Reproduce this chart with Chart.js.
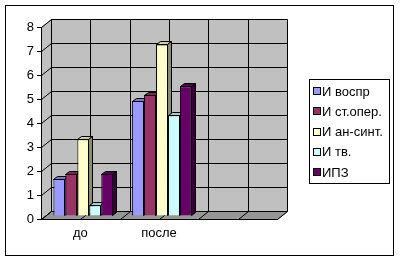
<!DOCTYPE html>
<html>
<head>
<meta charset="utf-8">
<script src="https://cdn.jsdelivr.net/npm/chart.js@4.4.1/dist/chart.umd.min.js"></script>
<style>
  html, body { margin: 0; padding: 0; background: #fff; }
  #wrap { width: 400px; height: 262px; }
</style>
</head>
<body>
<div id="wrap"><canvas id="BarChart"></canvas></div>
<script>
const categories = ["до", "после", ""];
const seriesNames = ["И воспр", "И ст.опер.", "И ан-синт.", "И тв.", "ИПЗ"];
const seriesColors = ["#9999FF", "#993366", "#FFFFCC", "#CCFFFF", "#660066"];
const iVospr = [1.55, 4.8, null];
const iStOper = [1.75, 5.05, null];
const iAnSint = [3.2, 7.15, null];
const iTv = [0.45, 4.2, null];
const ipz = [1.75, 5.4, null];
const yTicks = [0, 1, 2, 3, 4, 5, 6, 7, 8];

const FONT = "'Liberation Sans', Arial, sans-serif";
const WALL_DX = 10, WALL_DY = -8;   // depth of the 3d box
const BAR_DX = 4, BAR_DY = -3;      // depth of each column

function shade(hex, f) {
  const n = parseInt(hex.slice(1), 16);
  const r = Math.round(((n >> 16) & 255) * f);
  const g = Math.round(((n >> 8) & 255) * f);
  const b = Math.round((n & 255) * f);
  return "rgb(" + r + "," + g + "," + b + ")";
}

function poly(ctx, pts, fill) {
  ctx.beginPath();
  ctx.moveTo(pts[0][0], pts[0][1]);
  for (let i = 1; i < pts.length; i++) ctx.lineTo(pts[i][0], pts[i][1]);
  ctx.closePath();
  if (fill) { ctx.fillStyle = fill; ctx.fill(); }
  ctx.stroke();
}

const px = (v) => Math.round(v) + 0.5;

// walls, floor and grid of the 3d box
const wallPlugin = {
  id: "wall",
  beforeDraw(chart) {
    const ctx = chart.ctx, a = chart.chartArea, ys = chart.scales.y, xs = chart.scales.x;
    const L = px(a.left), R = px(a.right), T = px(a.top), B = px(a.bottom);
    ctx.save();
    ctx.fillStyle = "#fff";
    ctx.fillRect(0, 0, chart.width, chart.height);
    ctx.strokeStyle = "#000";
    ctx.lineWidth = 1;
    ctx.strokeRect(5.5, 5.5, 388, 250);

    ctx.strokeStyle = "#808080";
    // back wall
    poly(ctx, [[L + WALL_DX, T + WALL_DY], [R + WALL_DX, T + WALL_DY], [R + WALL_DX, B + WALL_DY], [L + WALL_DX, B + WALL_DY]], "#C0C0C0");
    // left wall
    poly(ctx, [[L, T], [L + WALL_DX, T + WALL_DY], [L + WALL_DX, B + WALL_DY], [L, B]], "#C0C0C0");
    // floor
    poly(ctx, [[L, B], [L + WALL_DX, B + WALL_DY], [R + WALL_DX, B + WALL_DY], [R, B]], "#969696");

    ctx.strokeStyle = "#000";
    ctx.beginPath();
    yTicks.forEach((v) => {
      const y = px(ys.getPixelForValue(v));
      ctx.moveTo(L, y);
      ctx.lineTo(L + WALL_DX, y + WALL_DY);
      ctx.lineTo(R + WALL_DX, y + WALL_DY);
    });
    const step = (xs.getPixelForValue(1) - xs.getPixelForValue(0)) / 2;
    for (let i = 0; i <= categories.length * 2; i++) {
      const x = px(a.left + i * step);
      ctx.moveTo(x, B);
      ctx.lineTo(x + WALL_DX, B + WALL_DY);
      ctx.lineTo(x + WALL_DX, T + WALL_DY);
    }
    ctx.stroke();
    ctx.restore();
  },
  // skip the default paint (last dataset first) and paint left to right
  // below, with top and side faces, so each column hides the one before
  beforeDatasetDraw() {
    return false;
  },
  afterDatasetsDraw(chart) {
    const ctx = chart.ctx;
    ctx.save();
    ctx.translate(3, -3);
    chart.data.datasets.forEach((ds, di) => {
      const meta = chart.getDatasetMeta(di);
      meta.data.forEach((bar, i) => {
        const v = ds.data[i];
        if (v === null || v === undefined) return;
        bar.draw(ctx);
        ctx.strokeStyle = "#000";
        ctx.lineWidth = 1;
        const l = px(bar.x - bar.width / 2), r = px(bar.x + bar.width / 2) - 1;
        const t = px(bar.y), b = px(bar.base) - 1;
        poly(ctx, [[l, t], [l + BAR_DX, t + BAR_DY], [r + BAR_DX, t + BAR_DY], [r, t]], shade(ds.backgroundColor, 0.8));
        poly(ctx, [[r, t], [r + BAR_DX, t + BAR_DY], [r + BAR_DX, b + BAR_DY], [r, b]], shade(ds.backgroundColor, 0.55));
      });
    });
    ctx.restore();
  },
  afterDraw(chart) {
    const ctx = chart.ctx;
    ctx.save();
    ctx.strokeStyle = "#000";
    ctx.lineWidth = 1;
    ctx.fillStyle = "#fff";
    ctx.fillRect(309.5, 79.5, 80, 104);
    ctx.strokeRect(309.5, 79.5, 80, 104);
    ctx.font = "13px " + FONT;
    ctx.textBaseline = "middle";
    chart.data.datasets.forEach((ds, i) => {
      const y = 91 + i * 20.3;
      ctx.fillStyle = ds.backgroundColor;
      ctx.fillRect(313.5, Math.round(y) - 3.5, 7, 7);
      ctx.strokeRect(313.5, Math.round(y) - 3.5, 7, 7);
      ctx.fillStyle = "#000";
      ctx.fillText(ds.label, 322, y + 1);
    });
    ctx.restore();
  }
};

const seriesValues = [iVospr, iStOper, iAnSint, iTv, ipz];

new Chart(document.getElementById("BarChart"), {
  type: "bar",
  data: {
    labels: categories,
    datasets: seriesNames.map((name, i) => ({
      label: name,
      data: seriesValues[i],
      backgroundColor: seriesColors[i],
      borderColor: "#000",
      borderWidth: 1,
      categoryPercentage: 0.76,
      barPercentage: 1.0,
    })),
  },
  options: {
    responsive: true,
    maintainAspectRatio: false,
    animation: false,
    layout: { padding: { top: 27, right: 123, left: 0, bottom: 0 } },
    plugins: { legend: { display: false }, tooltip: { enabled: false } },
    scales: {
      x: {
        grid: { display: false, drawTicks: false },
        border: { color: "#000", width: 1 },
        ticks: { color: "#000", font: { family: FONT, size: 13 }, padding: 7 },
        afterFit: (s) => { s.height = 43; },
      },
      y: {
        min: 0,
        max: 8,
        afterBuildTicks: (s) => { s.ticks = yTicks.map((v) => ({ value: v })); },
        grid: { drawOnChartArea: false, tickLength: 4, color: "#000" },
        border: { color: "#000", width: 1 },
        ticks: { color: "#000", font: { family: FONT, size: 13 }, padding: 3 },
        afterFit: (s) => { s.width = 41; },
      },
    },
  },
  plugins: [wallPlugin],
});
</script>
</body>
</html>
